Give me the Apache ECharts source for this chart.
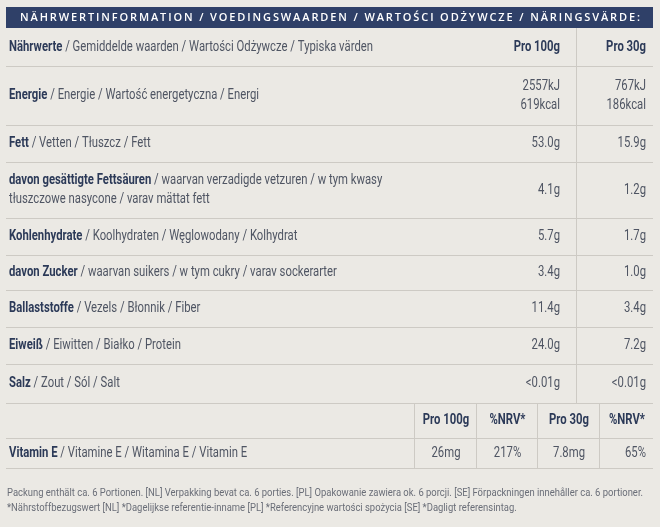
<!DOCTYPE html>
<html><head><meta charset="utf-8">
<script src="https://cdn.jsdelivr.net/npm/echarts@6/dist/echarts.min.js"></script>
<style>html,body{margin:0;padding:0;background:#ebe9e4}#c{width:660px;height:527px}</style>
</head><body><div id="c"></div>
<script>
// ---- data ----
const title = 'NÄHRWERTINFORMATION / VOEDINGSWAARDEN / WARTOŚCI ODŻYWCZE / NÄRINGSVÄRDE:';
const headBold = 'Nährwerte';
const headRest = ' / Gemiddelde waarden / Wartości Odżywcze / Typiska värden';
const colHeads = ['Pro 100g', 'Pro 30g'];
const nutrientBold = ['Energie', 'Fett', 'davon gesättigte Fettsäuren', 'Kohlenhydrate', 'davon Zucker', 'Ballaststoffe', 'Eiweiß', 'Salz'];
const nutrientRest = [' / Energie / Wartość energetyczna / Energi', ' / Vetten / Tłuszcz / Fett', ' / waarvan verzadigde vetzuren / w tym kwasy\ntłuszczowe nasycone / varav mättat fett', ' / Koolhydraten / Węglowodany / Kolhydrat', ' / waarvan suikers / w tym cukry / varav sockerarter', ' / Vezels / Błonnik / Fiber', ' / Eiwitten / Białko / Protein', ' / Zout / Sól / Salt'];
const per100 = ['2557kJ\n619kcal', '53.0g', '4.1g', '5.7g', '3.4g', '11.4g', '24.0g', '<0.01g'];
const per30 = ['767kJ\n186kcal', '15.9g', '1.2g', '1.7g', '1.0g', '3.4g', '7.2g', '<0.01g'];
const vitHeads = ['Pro 100g', '%NRV*', 'Pro 30g', '%NRV*'];
const vitBold = 'Vitamin E';
const vitRest = ' / Vitamine E / Witamina E / Vitamin E';
const vitValues = ['26mg', '217%', '7.8mg', '65%'];
const footnotes = ['Packung enthält ca. 6 Portionen. [NL] Verpakking bevat ca. 6 porties. [PL] Opakowanie zawiera ok. 6 porcji. [SE] Förpackningen innehåller ca. 6 portioner.',
  '*Nährstoffbezugswert [NL] *Dagelijkse referentie-inname [PL] *Referencyjne wartości spożycia [SE] *Dagligt referensintag.'];

// ---- layout (in axis units = px) ----
const L = {
  left: 6, right: 653, barTop: 7, barBottom: 28,
  rowEdges: [28, 66, 125, 162, 218, 255, 290, 327, 364, 403],
  vitEdges: [403, 438, 468],
  textX: 9, col1Right: 560, col2Right: 646, divider: 576,
  vitCols: [414, 476, 537, 599, 653],
  foot: [493, 508],
  headWidth: 364, footWidth: 636, titleLeft: 20, titleWidth: 620
};
const FONT = "Roboto, sans-serif";
const TFONT = "'Open Sans', sans-serif";
const C = { bar: '#2f4068', bold: '#2c3a58', reg: '#4f5563', line: '#cdcac4', bg: '#ebe9e4', foot: '#6a6e78' };

// text measuring for horizontal condensing
const mctx = document.createElement('canvas').getContext('2d');
function mw(text, font) { mctx.font = font; return mctx.measureText(text).width; }
const SX = L.headWidth / (mw(headBold, 'bold 14px Roboto') + mw(headRest, '14px Roboto'));
const FSX = L.footWidth / mw(footnotes[0], '11px Roboto');

function richLabel(b, rest) {
  const parts = rest.split('\n');
  let s = '{b|' + b + '}{r|' + parts[0] + '}';
  for (let i = 1; i < parts.length; i++) s += '\n{r|' + parts[i] + '}';
  return s;
}
const rich = {
  b: { fontFamily: FONT, fontSize: 14, fontWeight: 'bold', fill: C.bold, lineHeight: 19 },
  r: { fontFamily: FONT, fontSize: 14, fill: C.reg, lineHeight: 19 }
};

const rows = [{ label: richLabel(headBold, headRest), v1: colHeads[0], v2: colHeads[1], head: true }]
  .concat(nutrientBold.map((b, i) => ({ label: richLabel(b, nutrientRest[i]), v1: per100[i], v2: per30[i] })));

const chart = echarts.init(document.getElementById('c'), null, { renderer: 'canvas' });

function textEl(api, x, y, text, opt, sx) {
  const p = api.coord([x, y]);
  return {
    type: 'text', x: p[0], y: p[1], scaleX: sx || SX,
    style: Object.assign({ text: text, fontFamily: FONT, fontSize: 14, fill: C.reg, lineHeight: 19,
      align: 'left', verticalAlign: 'middle' }, opt)
  };
}
function lineEl(api, x1, y1, x2, y2, w, color) {
  const a = api.coord([x1, y1]), b = api.coord([x2, y2]);
  return { type: 'line', shape: { x1: a[0], y1: a[1], x2: b[0], y2: b[1] },
    style: { stroke: color || C.line, lineWidth: w || 1 } };
}

function renderMain(params, api) {
  const i = params.dataIndex;
  const r = rows[i];
  const y0 = L.rowEdges[i], y1 = L.rowEdges[i + 1];
  const yc = (y0 + y1) / 2;
  const children = [];
  children.push(textEl(api, L.textX, yc, r.label, { rich: rich }));
  const valStyle = r.head ? { fontWeight: 'bold', fill: C.bold, align: 'right' } : { align: 'right' };
  children.push(textEl(api, L.col1Right, yc, r.v1, valStyle));
  children.push(textEl(api, L.col2Right, yc, r.v2, valStyle));
  children.push(lineEl(api, L.left, y1 + 0.5, L.right, y1 + 0.5, 1.2));
  children.push(lineEl(api, L.divider + 0.5, y0, L.divider + 0.5, y1));
  return { type: 'group', children: children };
}

const vitRows = [{ head: true, values: vitHeads }, { head: false, values: vitValues }];
function renderVit(params, api) {
  const i = params.dataIndex;
  const r = vitRows[i];
  const y0 = L.vitEdges[i], y1 = L.vitEdges[i + 1];
  const yc = (y0 + y1) / 2;
  const children = [];
  if (!r.head) children.push(textEl(api, L.textX, yc, richLabel(vitBold, vitRest), { rich: rich }));
  r.values.forEach((v, k) => {
    const cx = (L.vitCols[k] + L.vitCols[k + 1]) / 2;
    const last = (!r.head && k === r.values.length - 1);
    children.push(textEl(api, last ? L.col2Right : cx + 1, yc, v,
      Object.assign({ align: last ? 'right' : 'center' }, r.head ? { fontWeight: 'bold', fill: C.bold } : {})));
  });
  children.push(lineEl(api, L.left, y1 + 0.5, L.right, y1 + 0.5, 1.2));
  for (let k = 0; k < L.vitCols.length - 1; k++)
    children.push(lineEl(api, L.vitCols[k] + 0.5, y0, L.vitCols[k] + 0.5, y1));
  return { type: 'group', children: children };
}

// title with letter spacing, per-character
const TF = '600 11px ' + TFONT;
const chars = Array.from(title);
const charW = chars.map(ch => mw(ch, TF));
const rawW = charW.reduce((a, b) => a + b, 0);
const spacing = (L.titleWidth - rawW) / (chars.length - 1);

function renderTop(params, api) {
  const a = api.coord([L.left, L.barTop]), b = api.coord([L.right, L.barBottom]);
  const ym = (L.barTop + L.barBottom) / 2 + 0.5;
  const children = [
    { type: 'rect', shape: { x: a[0], y: a[1], width: b[0] - a[0], height: b[1] - a[1] }, style: { fill: C.bar } }
  ];
  let x = L.titleLeft;
  chars.forEach((ch, k) => {
    const p = api.coord([x, ym]);
    children.push({ type: 'text', x: p[0], y: p[1], style: { text: ch, fill: '#ffffff', fontFamily: TFONT,
      fontSize: 11, fontWeight: 600, align: 'left', verticalAlign: 'middle' } });
    x += charW[k] + spacing;
  });
  return { type: 'group', children: children };
}
function renderFoot(params, api) {
  const i = params.dataIndex;
  return textEl(api, 7, L.foot[i], footnotes[i], { fill: C.foot, fontSize: 11 }, FSX);
}

chart.setOption({
  backgroundColor: C.bg,
  animation: false,
  grid: { left: 0, right: 0, top: 0, bottom: 0 },
  xAxis: { type: 'value', min: 0, max: 660, show: false },
  yAxis: { type: 'value', min: 0, max: 527, inverse: true, show: false },
  series: [
    { type: 'custom', renderItem: renderTop, data: [0] },
    { type: 'custom', renderItem: renderMain, data: rows.map((r, i) => i) },
    { type: 'custom', renderItem: renderVit, data: vitRows.map((r, i) => i) },
    { type: 'custom', renderItem: renderFoot, data: footnotes.map((f, i) => i) }
  ]
});
</script></body></html>
